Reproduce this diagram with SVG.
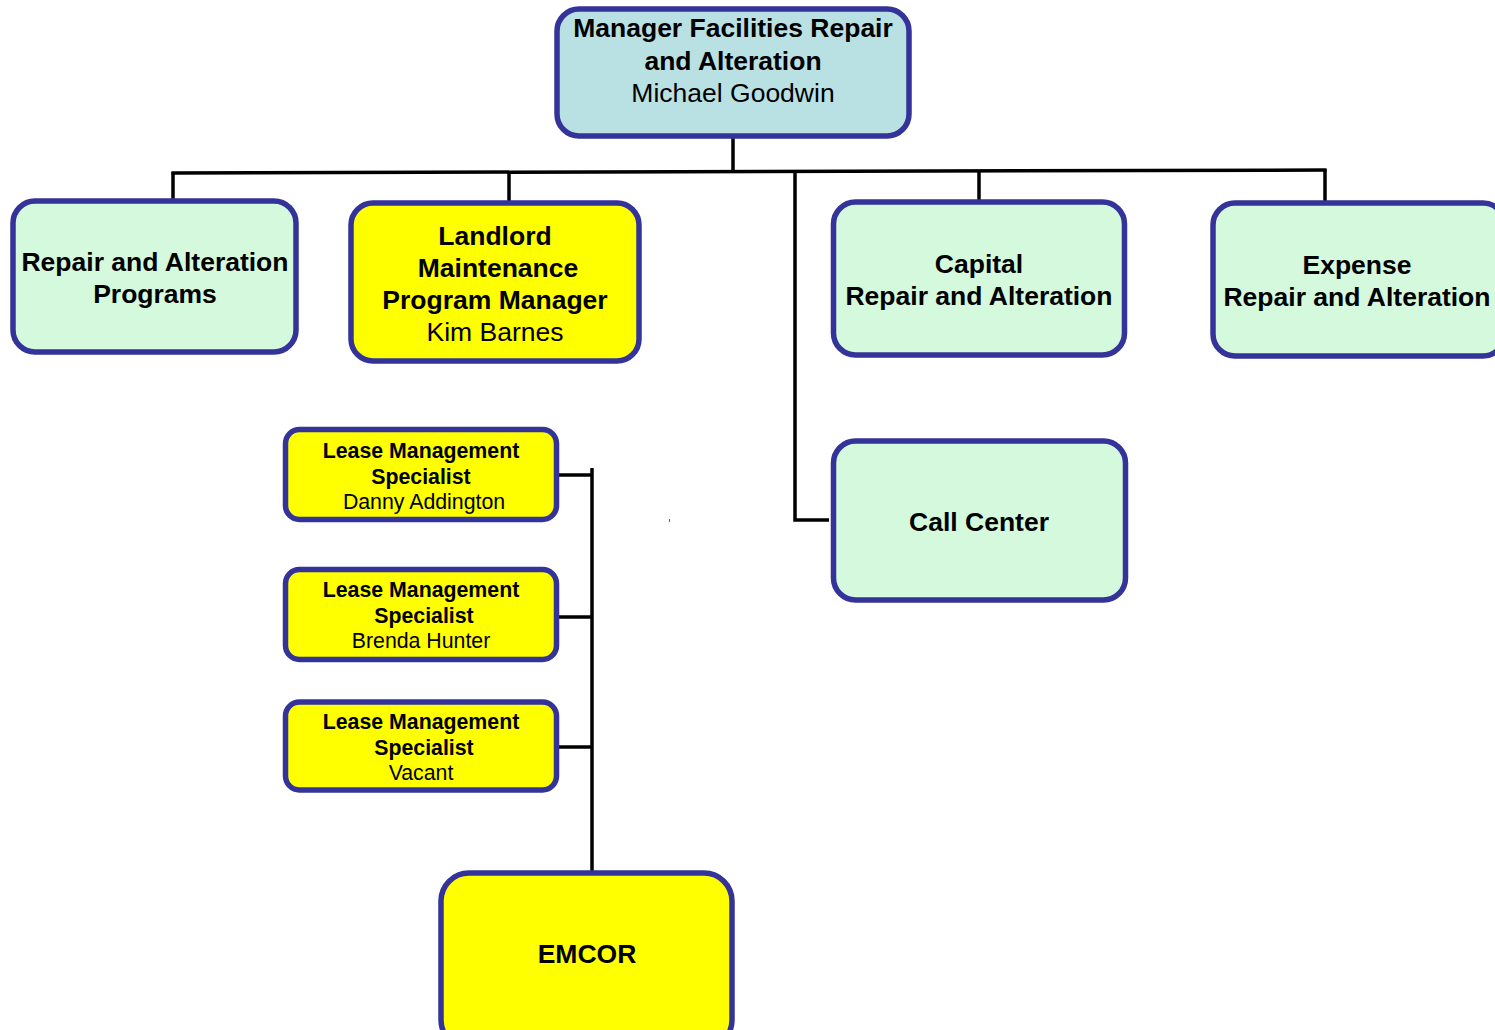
<svg xmlns="http://www.w3.org/2000/svg" width="1495" height="1030" viewBox="0 0 1495 1030">
<style>
.box{stroke:#333399;stroke-width:5.5}
.blue{fill:#B9E0E3}
.green{fill:#D4F9DC}
.yellow{fill:#FFFF00}
.conn{stroke:#000;stroke-width:3.5;fill:none}
text{font-family:"Liberation Sans",Arial,sans-serif;fill:#000;text-anchor:middle}
.b26{font-size:26.5px;font-weight:bold}
.r26{font-size:26.5px}
.b21{font-size:21.3px;font-weight:bold}
.r21{font-size:21.3px}
</style>
<rect width="1495" height="1030" fill="#fff"/>
<g id="connectors">
<line class="conn" x1="733" y1="137" x2="733" y2="172"/>
<line class="conn" x1="171.5" y1="173" x2="1326.5" y2="170"/>
<line class="conn" x1="173" y1="172" x2="173" y2="200"/>
<line class="conn" x1="509" y1="172" x2="509" y2="202"/>
<line class="conn" x1="979" y1="171" x2="979" y2="201"/>
<line class="conn" x1="1325" y1="169" x2="1325" y2="202"/>
<polyline class="conn" points="795,171 795,520 829,520"/>
<line class="conn" x1="592" y1="468" x2="592" y2="872"/>
<line class="conn" x1="557" y1="475" x2="592" y2="475"/>
<line class="conn" x1="557" y1="617" x2="592" y2="617"/>
<line class="conn" x1="557" y1="747" x2="592" y2="747"/>
</g>
<g id="manager">
<rect class="box blue" x="557" y="9" width="352" height="127" rx="22"/>
<text class="b26" x="733" y="37">Manager Facilities Repair</text>
<text class="b26" x="733" y="70">and Alteration</text>
<text class="r26" x="733" y="102">Michael Goodwin</text>
</g>
<g id="ra-programs">
<rect class="box green" x="13" y="201" width="283" height="151" rx="22"/>
<text class="b26" x="155" y="271">Repair and Alteration</text>
<text class="b26" x="155" y="303">Programs</text>
</g>
<g id="landlord">
<rect class="box yellow" x="351" y="203" width="288" height="158" rx="22"/>
<text class="b26" x="495" y="245">Landlord</text>
<text class="b26" x="498" y="277">Maintenance</text>
<text class="b26" x="495" y="309">Program Manager</text>
<text class="r26" x="495" y="341">Kim Barnes</text>
</g>
<g id="capital">
<rect class="box green" x="833.5" y="202" width="291" height="153" rx="22"/>
<text class="b26" x="979" y="273">Capital</text>
<text class="b26" x="979" y="305">Repair and Alteration</text>
</g>
<g id="expense">
<rect class="box green" x="1213" y="203" width="292" height="153" rx="22"/>
<text class="b26" x="1357" y="274">Expense</text>
<text class="b26" x="1357" y="306">Repair and Alteration</text>
</g>
<g id="call-center">
<rect class="box green" x="833.5" y="441" width="292" height="159" rx="22"/>
<text class="b26" x="979" y="531">Call Center</text>
</g>
<g id="lms-1">
<rect class="box yellow" x="285.5" y="429.5" width="271" height="90" rx="14"/>
<text class="b21" x="421" y="458">Lease Management</text>
<text class="b21" x="421" y="484">Specialist</text>
<text class="r21" x="424" y="509">Danny Addington</text>
</g>
<g id="lms-2">
<rect class="box yellow" x="285.5" y="569.5" width="271" height="90" rx="14"/>
<text class="b21" x="421" y="597">Lease Management</text>
<text class="b21" x="424" y="623">Specialist</text>
<text class="r21" x="421" y="648">Brenda Hunter</text>
</g>
<g id="lms-3">
<rect class="box yellow" x="285.5" y="702" width="271" height="88" rx="14"/>
<text class="b21" x="421" y="729">Lease Management</text>
<text class="b21" x="424" y="755">Specialist</text>
<text class="r21" x="421" y="780">Vacant</text>
</g>
<g id="emcor">
<rect class="box yellow" x="441" y="873" width="291" height="175" rx="28"/>
<text class="b26" x="587" y="963">EMCOR</text>
</g>
<rect x="669" y="519" width="1" height="3" fill="#666"/>
</svg>
